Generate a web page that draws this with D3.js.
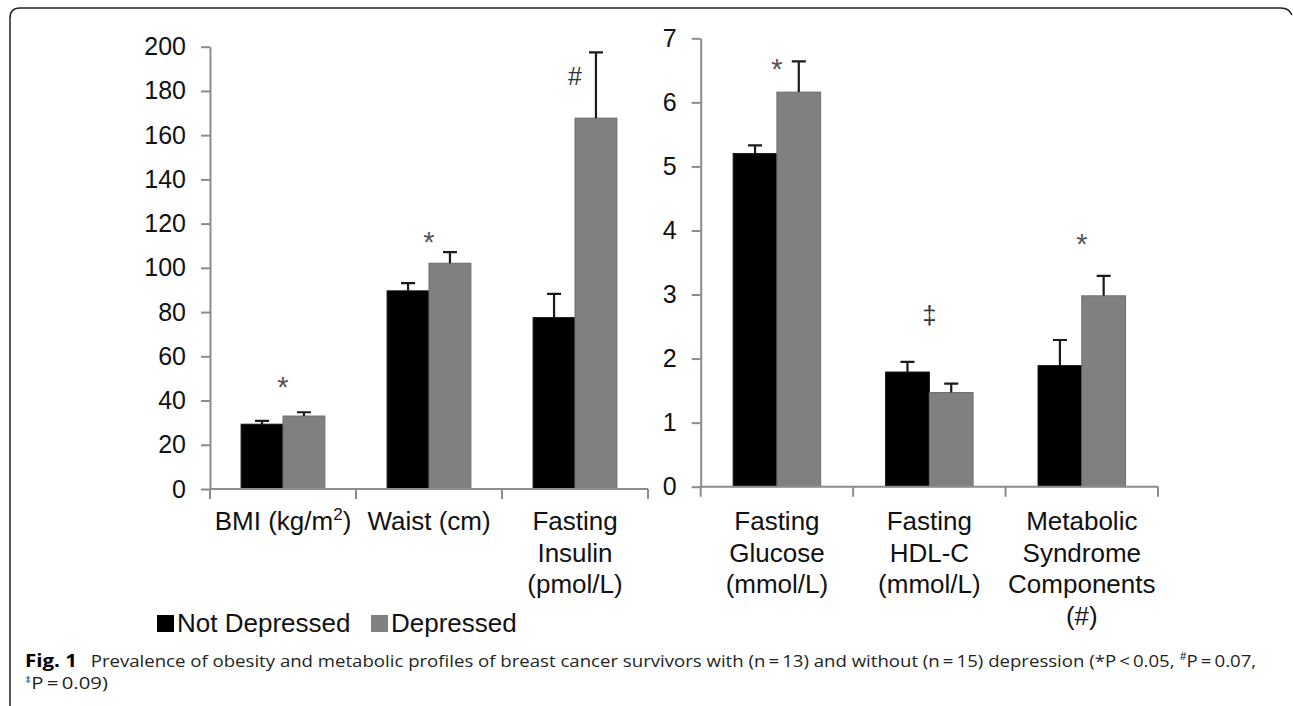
<!DOCTYPE html>
<html>
<head>
<meta charset="utf-8">
<script src="https://cdn.jsdelivr.net/npm/d3@7"></script>
<style>
  html, body { margin: 0; padding: 0; background: #fff; }
  svg { display: block; }
</style>
</head>
<body>
<svg id="chart" width="1293" height="706"></svg>
<script>
// ---------- data ----------
const seriesNames = ["Not Depressed", "Depressed"];
const seriesColors = ["#000000", "#808080"];

const leftCategories = ["BMI (kg/m^2)", "Waist (cm)", "Fasting|Insulin|(pmol/L)"];
const leftNotDepressed = [29.3, 89.6, 77.5];
const leftNotDepressedErr = [1.5, 3.5, 10.7];
const leftDepressed = [33.0, 102.1, 167.7];
const leftDepressedErr = [1.7, 5.0, 29.7];
const leftTicks = [0, 20, 40, 60, 80, 100, 120, 140, 160, 180, 200];
const leftMarks = ["*", "*", "#"];
const leftMarkLevel = [49.3, 114.6, 186.6];

const rightCategories = ["Fasting|Glucose|(mmol/L)", "Fasting|HDL-C|(mmol/L)", "Metabolic|Syndrome|Components|(#)"];
const rightNotDepressed = [5.2, 1.79, 1.89];
const rightNotDepressedErr = [0.13, 0.16, 0.40];
const rightDepressed = [6.16, 1.47, 2.98];
const rightDepressedErr = [0.48, 0.14, 0.31];
const rightTicks = [0, 1, 2, 3, 4, 5, 6, 7];
const rightMarks = ["*", "\u2021", "*"];
const rightMarkLevel = [6.63, 2.65, 3.89];

const captionBold = "Fig. 1";
const captionLine1 = [
  ["Prevalence of obesity and metabolic profiles of breast cancer survivors with (n\u2009=\u200913) and without (n\u2009=\u200915) depression (*P\u2009<\u20090.05, ", false],
  ["#", true],
  ["P\u2009=\u20090.07,", false]
];
const captionLine2 = [["\u2021", true], ["P\u2009=\u20090.09)", false]];

// ---------- drawing ----------
const svg = d3.select("#chart");
const FONT = "'Liberation Sans', Arial, Helvetica, sans-serif";
const AXIS = "#8c8c8c";

// frame
svg.append("path")
  .attr("d", "M10,706 L10,18 Q10,8 20,8 L1281,8 Q1289,8 1292,15")
  .attr("fill", "none").attr("stroke", "#222").attr("stroke-width", 1.5);

function panel(cfg) {
  const g = svg.append("g");
  const x = d3.scaleBand().domain(cfg.cats).range([cfg.x0, cfg.x1]).padding(0);
  const bw = x.bandwidth();
  const gap = bw * 0.213;
  const xs = d3.scaleBand().domain(seriesNames).range([gap, bw - gap]).padding(0);
  const y = d3.scaleLinear().domain([0, cfg.max]).range([cfg.yBottom, cfg.yTop]);

  // y axis
  const ya = g.append("g").attr("transform", `translate(${cfg.x0},0)`)
    .call(d3.axisLeft(y).tickValues(cfg.ticks).tickFormat(d3.format("d"))
      .tickSize(9).tickSizeOuter(0).tickPadding(15));
  ya.select(".domain").attr("stroke", AXIS).attr("stroke-width", 2);
  ya.selectAll(".tick line").attr("stroke", AXIS).attr("stroke-width", 2);
  ya.selectAll(".tick text").attr("font-family", FONT).attr("font-size", 25).attr("fill", "#111");

  // bars
  const rows = cfg.cats.map((c, i) => ({
    cat: c,
    vals: [
      { s: seriesNames[0], v: cfg.s0[i], e: cfg.e0[i], col: seriesColors[0] },
      { s: seriesNames[1], v: cfg.s1[i], e: cfg.e1[i], col: seriesColors[1] }
    ]
  }));
  const grp = g.selectAll(".grp").data(rows).join("g")
    .attr("transform", d => `translate(${x(d.cat)},0)`);
  grp.selectAll("rect").data(d => d.vals).join("rect")
    .attr("x", d => xs(d.s))
    .attr("width", xs.bandwidth())
    .attr("y", d => y(d.v))
    .attr("height", d => y(0) - y(d.v))
    .attr("fill", d => d.col)
    .attr("stroke", d => d.col === "#000000" ? "#111" : "#6e6e6e")
    .attr("stroke-width", 1);
  // error bars
  grp.selectAll(".eb").data(d => d.vals).join("path")
    .attr("class", "eb")
    .attr("d", d => {
      const cx = xs(d.s) + xs.bandwidth() / 2;
      return `M${cx},${y(d.v)}V${y(d.v + d.e)}M${cx - 7},${y(d.v + d.e)}H${cx + 7}`;
    })
    .attr("stroke", "#1a1a1a").attr("stroke-width", 2.2).attr("fill", "none");

  // x axis
  g.append("line").attr("x1", cfg.x0).attr("x2", cfg.x1).attr("y1", y(0)).attr("y2", y(0))
    .attr("stroke", AXIS).attr("stroke-width", 2);
  const bounds = cfg.cats.map(c => x(c)).concat([cfg.x1]);
  g.selectAll(".bt").data(bounds).join("line")
    .attr("x1", d => d).attr("x2", d => d).attr("y1", y(0)).attr("y2", y(0) + 10)
    .attr("stroke", AXIS).attr("stroke-width", 2);

  // category labels
  const lab = g.selectAll(".lab").data(cfg.cats).join("text")
    .attr("font-family", FONT).attr("font-size", 26).attr("fill", "#111")
    .attr("text-anchor", "middle")
    .attr("transform", c => `translate(${x(c) + bw / 2},530)`);
  lab.each(function (c) {
    const t = d3.select(this);
    c.split("|").forEach((line, li) => {
      if (line.includes("^")) {
        const [a, b] = line.split("^");
        const sup = b.slice(0, 1), rest = b.slice(1);
        const ts = t.append("tspan").attr("x", 0).attr("y", li * 31.7);
        ts.append("tspan").text(a);
        ts.append("tspan").attr("font-size", 17).attr("dy", -10).text(sup);
        ts.append("tspan").attr("dy", 10).text(rest);
      } else {
        t.append("tspan").attr("x", 0).attr("y", li * 31.7).text(line);
      }
    });
  });

  // significance marks
  const dyFor = { "*": "0.57em", "#": "0.36em", "\u2021": "0.3em" };
  g.selectAll(".mk").data(cfg.marks).join("text")
    .attr("font-family", FONT)
    .attr("font-size", d => d === "*" ? 29 : 25)
    .attr("fill", d => d === "*" ? "#555" : "#333")
    .attr("text-anchor", "middle")
    .attr("x", (d, i) => x(cfg.cats[i]) + bw / 2)
    .attr("y", (d, i) => y(cfg.markLevel[i]))
    .attr("dy", d => dyFor[d])
    .text(d => d);
}

panel({
  cats: leftCategories, s0: leftNotDepressed, e0: leftNotDepressedErr,
  s1: leftDepressed, e1: leftDepressedErr, ticks: leftTicks, max: 200,
  x0: 210, x1: 648, yBottom: 489, yTop: 46.7, marks: leftMarks, markLevel: leftMarkLevel
});
panel({
  cats: rightCategories, s0: rightNotDepressed, e0: rightNotDepressedErr,
  s1: rightDepressed, e1: rightDepressedErr, ticks: rightTicks, max: 7,
  x0: 700.7, x1: 1158, yBottom: 486.7, yTop: 38.3, marks: rightMarks, markLevel: rightMarkLevel
});

// legend
const leg = svg.append("g");
const legX = [157, 371];
seriesNames.forEach((s, i) => {
  leg.append("rect").attr("x", legX[i]).attr("y", 615).attr("width", 17).attr("height", 17)
    .attr("fill", seriesColors[i]);
  leg.append("text").attr("x", legX[i] + 20).attr("y", 632)
    .attr("font-family", FONT).attr("font-size", 26).attr("fill", "#111").text(s);
});

// caption
const CAP = "'Open Sans', 'Noto Sans', sans-serif";
function fitX(t, x, yb, target) {
  const w = t.node().getComputedTextLength();
  t.attr("x", 0).attr("y", 0)
   .attr("transform", `translate(${x},${yb}) scale(${target / w},1)`);
}
const fig = svg.append("text")
  .attr("font-family", CAP).attr("font-weight", "bold").attr("font-size", 17).attr("fill", "#000")
  .text(captionBold);
fitX(fig, 25, 666.5, 52);

function capLine(parts, x, yb, target, fs) {
  const t = svg.append("text")
    .attr("font-family", CAP).attr("font-size", fs).attr("fill", "#231f20");
  let prevSup = false;
  parts.forEach(([s, sup]) => {
    const ts = t.append("tspan").text(s);
    if (sup) { ts.attr("font-size", "0.6em").attr("dy", "-0.6em"); }
    else if (prevSup) { ts.attr("dy", "0.36em"); }
    prevSup = sup;
  });
  fitX(t, x, yb, target);
  return t;
}
capLine(captionLine1, 90.7, 666.5, 1166, 17);
capLine(captionLine2, 25, 688.5, 83, 16);
</script>
</body>
</html>
